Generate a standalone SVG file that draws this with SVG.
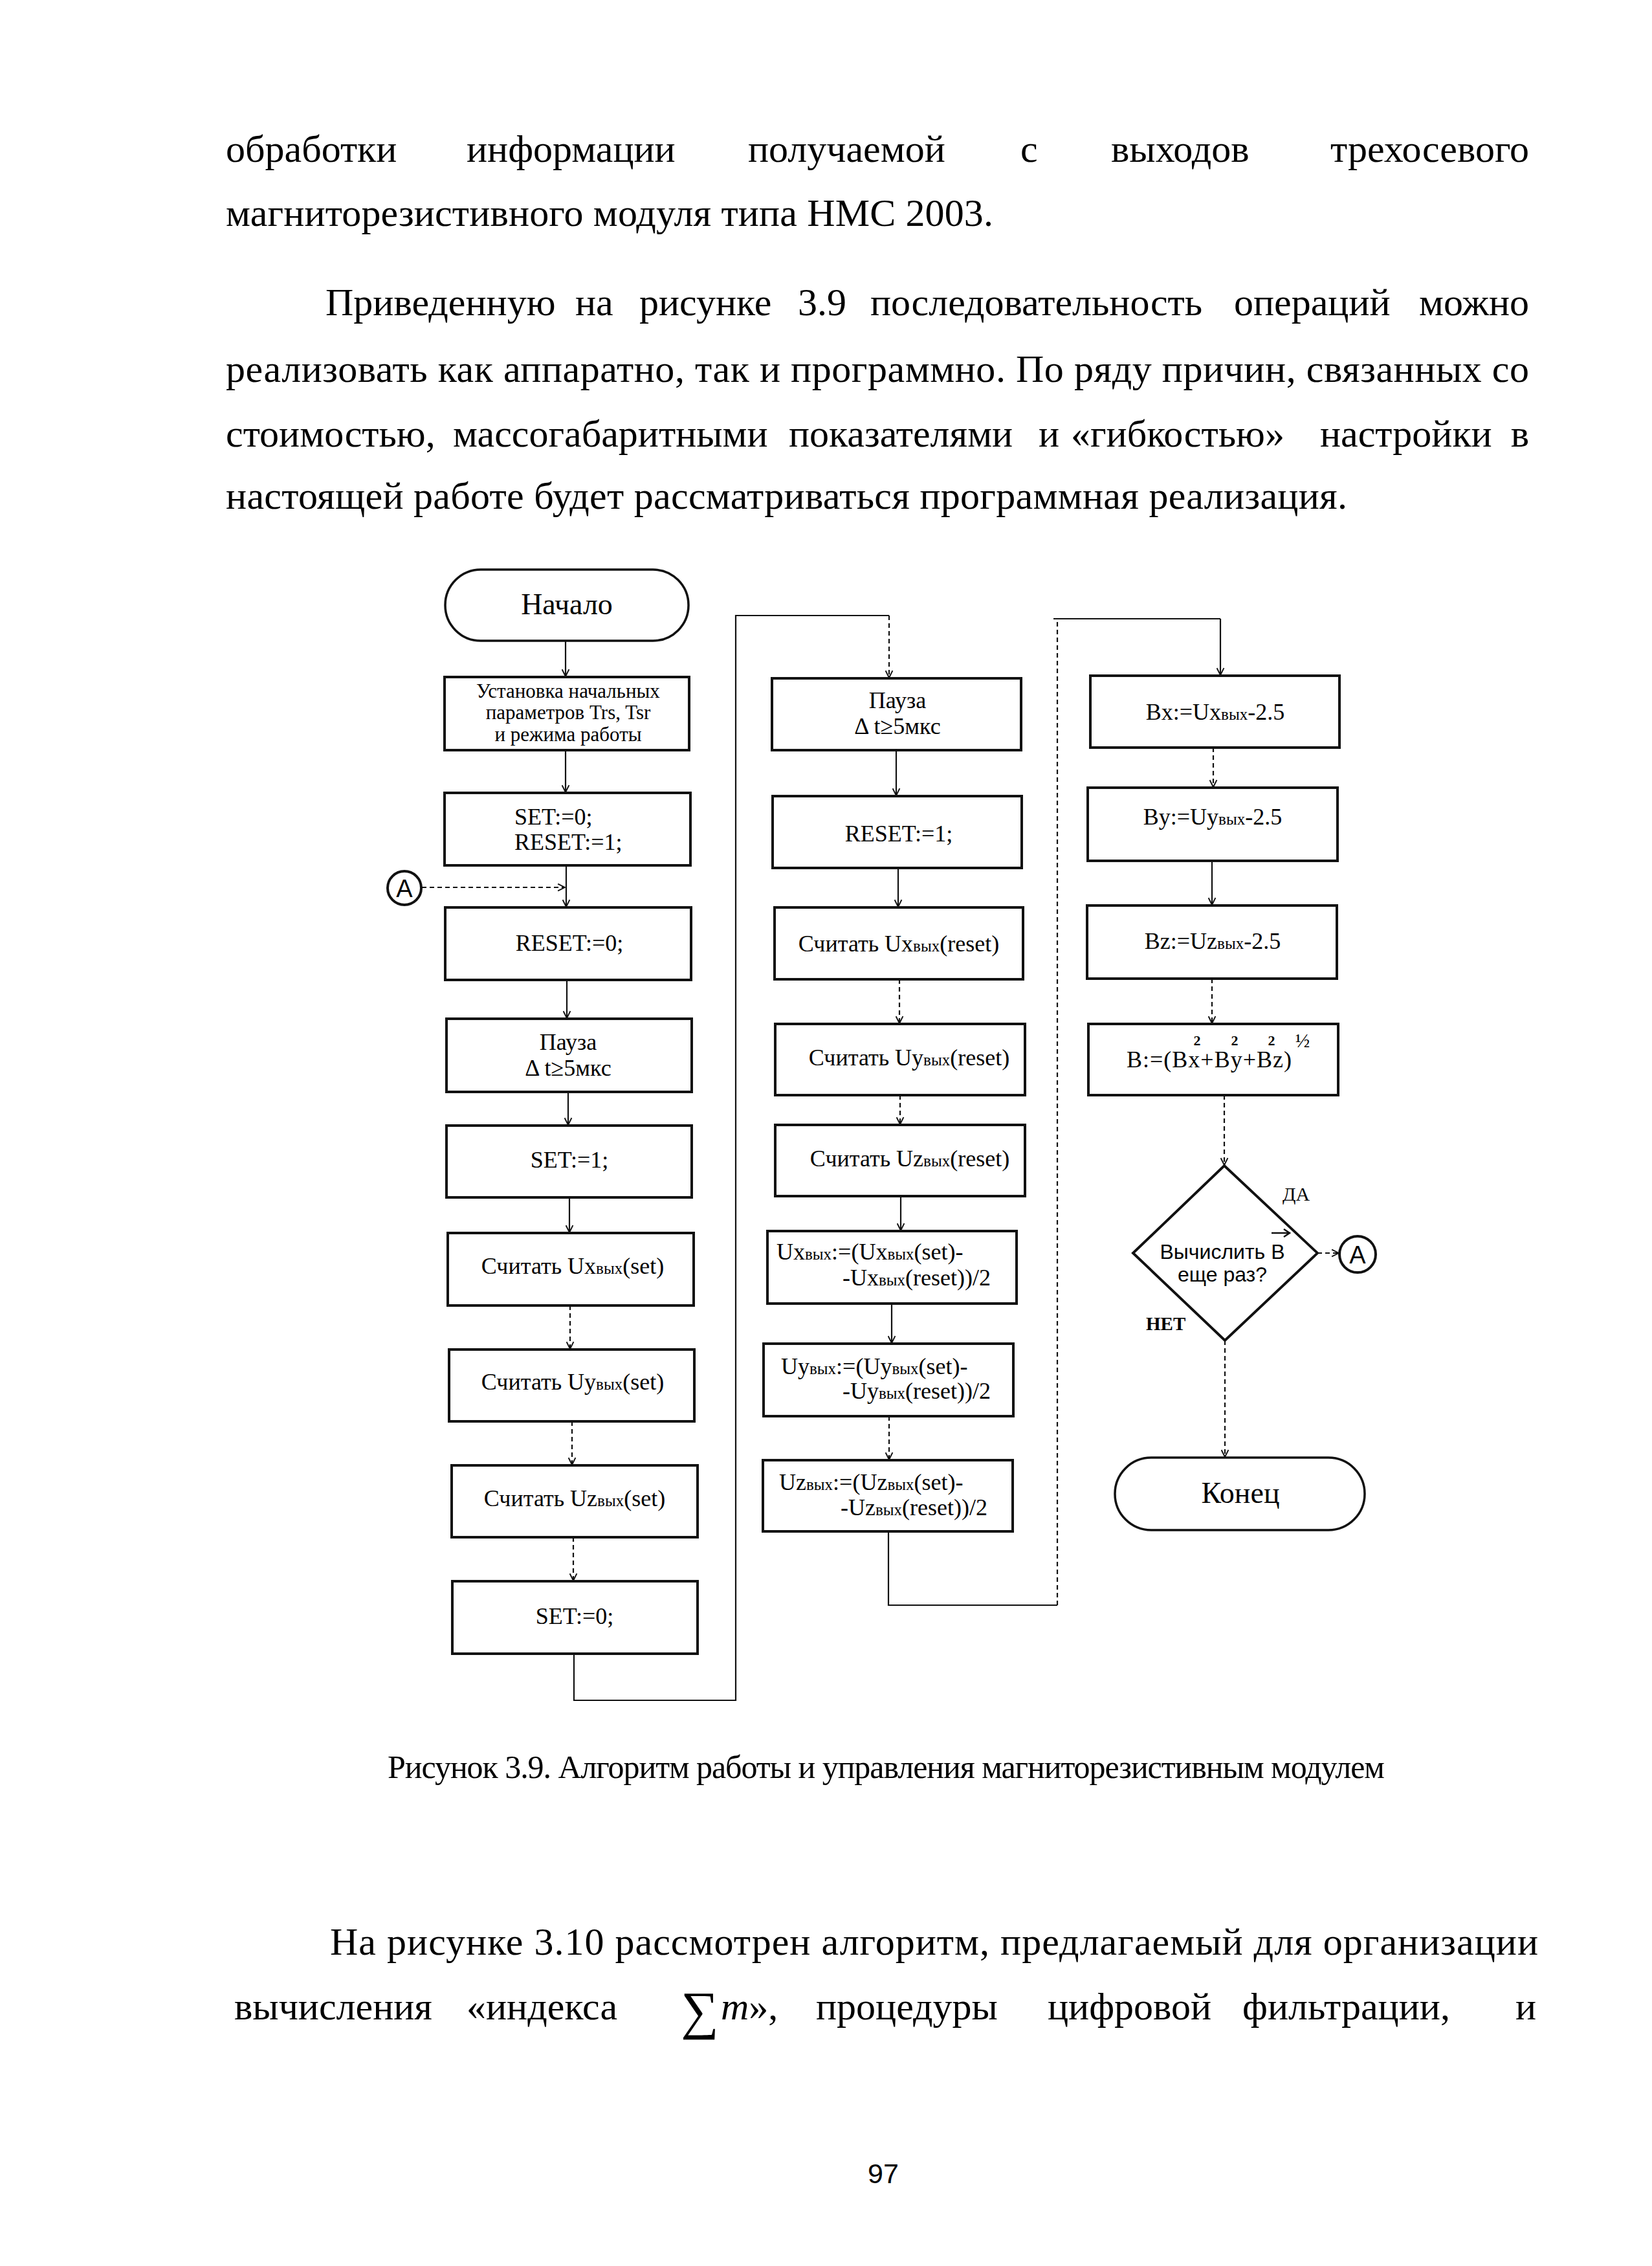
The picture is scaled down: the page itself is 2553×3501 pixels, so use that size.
<svg xmlns="http://www.w3.org/2000/svg" width="2553" height="3501" viewBox="0 0 2553 3501">
<style>
.bg{fill:#fff}
.box{fill:none;stroke:#111;stroke-width:4}
.term{fill:none;stroke:#111;stroke-width:3.5}
.ln{fill:none;stroke:#111;stroke-width:2.2}
.dash{stroke-dasharray:7 5}
.t{font-family:"Liberation Serif","Times New Roman",serif;font-size:36px;fill:#000;text-anchor:middle}
.tl{font-family:"Liberation Serif","Times New Roman",serif;font-size:36px;fill:#000}
.s{font-size:25px}
.body{font-family:"Liberation Serif","Times New Roman",serif;font-size:60px;fill:#000}
.sans{font-family:"Liberation Sans",Arial,sans-serif;fill:#000}
</style>
<defs>
<marker id="arr" viewBox="0 0 12 12" refX="11" refY="6" markerWidth="13" markerHeight="13" markerUnits="userSpaceOnUse" orient="auto">
<path d="M1,1 L11,6 L1,11" fill="none" stroke="#111" stroke-width="1.8"/>
</marker>
</defs>
<rect class="bg" x="0" y="0" width="2553" height="3501"/>

<g id="page-text">
<text class="body" y="250"><tspan x="349">обработки</tspan><tspan x="721">информации</tspan><tspan x="1156">получаемой</tspan><tspan x="1577">с</tspan><tspan x="1717">выходов</tspan><tspan x="2363" text-anchor="end">трехосевого</tspan></text>
<text class="body" x="349" y="349" textLength="1186" lengthAdjust="spacing">магниторезистивного модуля типа НМС 2003.</text>
<text class="body" y="487"><tspan x="503">Приведенную</tspan><tspan x="889">на</tspan><tspan x="988">рисунке</tspan><tspan x="1233">3.9</tspan><tspan x="1345">последовательность</tspan><tspan x="1907">операций</tspan><tspan x="2363" text-anchor="end">можно</tspan></text>
<text class="body" x="349" y="590" textLength="2014" lengthAdjust="spacing">реализовать как аппаратно, так и программно. По ряду причин, связанных со</text>
<text class="body" y="690"><tspan x="349">стоимостью,</tspan><tspan x="700">массогабаритными</tspan><tspan x="1219">показателями</tspan><tspan x="1605">и</tspan><tspan x="1655">«гибкостью»</tspan><tspan x="2040">настройки</tspan><tspan x="2363" text-anchor="end">в</tspan></text>
<text class="body" x="349" y="786" textLength="1733" lengthAdjust="spacing">настоящей работе будет рассматриваться программная реализация.</text>

<text class="body" x="599" y="2747" style="font-size:50px" textLength="1541" lengthAdjust="spacing">Рисунок 3.9. Алгоритм работы и управления магниторезистивным модулем</text>

<text class="body" x="510" y="3020" textLength="1867" lengthAdjust="spacing">На рисунке 3.10 рассмотрен алгоритм, предлагаемый для организации</text>
<text class="body" y="3120"><tspan x="362">вычисления</tspan><tspan x="721">«индекса</tspan></text>
<text class="body" x="1052" y="3134" style="font-size:82px">∑</text>
<text class="body" y="3120"><tspan x="1114" font-style="italic">m</tspan><tspan>»,</tspan><tspan x="1261">процедуры</tspan><tspan x="1619">цифровой</tspan><tspan x="1920">фильтрации,</tspan><tspan x="2374" text-anchor="end">и</tspan></text>

<text class="sans" x="1365" y="3373" style="font-size:43px" text-anchor="middle">97</text>
</g>

<g id="connectors">
<line class="ln" x1="874" y1="990" x2="874" y2="1045" marker-end="url(#arr)"/>
<line class="ln" x1="874" y1="1159" x2="874" y2="1224" marker-end="url(#arr)"/>
<line class="ln" x1="875" y1="1337" x2="875" y2="1401" marker-end="url(#arr)"/>
<line class="ln dash" x1="652" y1="1371" x2="873" y2="1371" marker-end="url(#arr)"/>
<line class="ln" x1="876" y1="1514" x2="876" y2="1573" marker-end="url(#arr)"/>
<line class="ln" x1="878" y1="1687" x2="878" y2="1738" marker-end="url(#arr)"/>
<line class="ln" x1="880" y1="1850" x2="880" y2="1904" marker-end="url(#arr)"/>
<line class="ln dash" x1="881" y1="2017" x2="881" y2="2084" marker-end="url(#arr)"/>
<line class="ln dash" x1="884" y1="2196" x2="884" y2="2263" marker-end="url(#arr)"/>
<line class="ln dash" x1="886" y1="2375" x2="886" y2="2442" marker-end="url(#arr)"/>
<path class="ln" d="M887,2555 V2627 H1137 V951 H1374"/>
<line class="ln dash" x1="1374" y1="951" x2="1374" y2="1047" marker-end="url(#arr)"/>

<line class="ln" x1="1385" y1="1159" x2="1385" y2="1229" marker-end="url(#arr)"/>
<line class="ln" x1="1388" y1="1341" x2="1388" y2="1401" marker-end="url(#arr)"/>
<line class="ln dash" x1="1390" y1="1513" x2="1390" y2="1581" marker-end="url(#arr)"/>
<line class="ln dash" x1="1391" y1="1692" x2="1391" y2="1737" marker-end="url(#arr)"/>
<line class="ln" x1="1392" y1="1848" x2="1392" y2="1901" marker-end="url(#arr)"/>
<line class="ln" x1="1378" y1="2014" x2="1378" y2="2075" marker-end="url(#arr)"/>
<line class="ln dash" x1="1374" y1="2188" x2="1374" y2="2255" marker-end="url(#arr)"/>
<path class="ln" d="M1373,2366 V2480 H1634"/>
<path class="ln dash" d="M1634,2480 V956"/>
<path class="ln" d="M1628,956 H1886"/>
<line class="ln" x1="1886" y1="956" x2="1886" y2="1043" marker-end="url(#arr)"/>

<line class="ln dash" x1="1875" y1="1155" x2="1875" y2="1216" marker-end="url(#arr)"/>
<line class="ln" x1="1873" y1="1330" x2="1873" y2="1398" marker-end="url(#arr)"/>
<line class="ln dash" x1="1873" y1="1512" x2="1873" y2="1581" marker-end="url(#arr)"/>
<line class="ln dash" x1="1892" y1="1692" x2="1892" y2="1800" marker-end="url(#arr)"/>
<line class="ln dash" x1="2036" y1="1936" x2="2069" y2="1936" marker-end="url(#arr)"/>
<line class="ln dash" x1="1893" y1="2071" x2="1893" y2="2251" marker-end="url(#arr)"/>
</g>

<g id="start">
<rect class="term" x="688" y="880" width="376" height="110" rx="55" ry="55"/>
<text class="t" x="876" y="949" style="font-size:46px">Начало</text>
</g>
<g id="init">
<rect class="box" x="687" y="1046" width="378" height="113"/>
<text class="t" x="878" y="1078" style="font-size:31px">Установка начальных</text>
<text class="t" x="878" y="1111" style="font-size:31px">параметров Trs, Tsr</text>
<text class="t" x="878" y="1145" style="font-size:31px">и режима работы</text>
</g>
<g id="set0-reset1">
<rect class="box" x="687" y="1225" width="380" height="112"/>
<text class="tl" x="795" y="1274">SET:=0;</text>
<text class="tl" x="795" y="1313">RESET:=1;</text>
</g>
<g id="conn-a-in">
<circle cx="625" cy="1372" r="26" fill="none" stroke="#111" stroke-width="4"/>
<text class="sans" x="625" y="1386" style="font-size:38px" text-anchor="middle">A</text>
</g>
<g id="reset0">
<rect class="box" x="688" y="1402" width="380" height="112"/>
<text class="t" x="880" y="1469">RESET:=0;</text>
</g>
<g id="pause1">
<rect class="box" x="690" y="1574" width="379" height="113"/>
<text class="t" x="878" y="1622">Пауза</text>
<text class="t" x="878" y="1662">Δ t≥5мкс</text>
</g>
<g id="set1">
<rect class="box" x="690" y="1739" width="379" height="111"/>
<text class="t" x="880" y="1804">SET:=1;</text>
</g>
<g id="read-ux-set">
<rect class="box" x="692" y="1905" width="380" height="112"/>
<text class="t" x="885" y="1968">Считать Ux<tspan class="s">вых</tspan>(set)</text>
</g>
<g id="read-uy-set">
<rect class="box" x="694" y="2085" width="379" height="111"/>
<text class="t" x="885" y="2147">Считать Uy<tspan class="s">вых</tspan>(set)</text>
</g>
<g id="read-uz-set">
<rect class="box" x="698" y="2264" width="380" height="111"/>
<text class="t" x="888" y="2327">Считать Uz<tspan class="s">вых</tspan>(set)</text>
</g>
<g id="set0">
<rect class="box" x="699" y="2443" width="379" height="112"/>
<text class="t" x="888" y="2509">SET:=0;</text>
</g>

<g id="pause2">
<rect class="box" x="1193" y="1048" width="385" height="111"/>
<text class="t" x="1387" y="1094">Пауза</text>
<text class="t" x="1387" y="1134">Δ t≥5мкс</text>
</g>
<g id="reset1">
<rect class="box" x="1194" y="1230" width="385" height="111"/>
<text class="t" x="1389" y="1300">RESET:=1;</text>
</g>
<g id="read-ux-reset">
<rect class="box" x="1197" y="1402" width="384" height="111"/>
<text class="t" x="1389" y="1470">Считать Ux<tspan class="s">вых</tspan>(reset)</text>
</g>
<g id="read-uy-reset">
<rect class="box" x="1198" y="1582" width="386" height="110"/>
<text class="t" x="1405" y="1646">Считать Uy<tspan class="s">вых</tspan>(reset)</text>
</g>
<g id="read-uz-reset">
<rect class="box" x="1198" y="1738" width="386" height="110"/>
<text class="t" x="1406" y="1802">Считать Uz<tspan class="s">вых</tspan>(reset)</text>
</g>
<g id="calc-ux">
<rect class="box" x="1186" y="1902" width="385" height="112"/>
<text class="tl" x="1200" y="1946">Ux<tspan class="s">вых</tspan>:=(Ux<tspan class="s">вых</tspan>(set)-</text>
<text class="tl" x="1302" y="1986">-Ux<tspan class="s">вых</tspan>(reset))/2</text>
</g>
<g id="calc-uy">
<rect class="box" x="1180" y="2076" width="386" height="112"/>
<text class="tl" x="1207" y="2123">Uy<tspan class="s">вых</tspan>:=(Uy<tspan class="s">вых</tspan>(set)-</text>
<text class="tl" x="1302" y="2161">-Uy<tspan class="s">вых</tspan>(reset))/2</text>
</g>
<g id="calc-uz">
<rect class="box" x="1179" y="2256" width="386" height="110"/>
<text class="tl" x="1204" y="2302">Uz<tspan class="s">вых</tspan>:=(Uz<tspan class="s">вых</tspan>(set)-</text>
<text class="tl" x="1299" y="2341">-Uz<tspan class="s">вых</tspan>(reset))/2</text>
</g>

<g id="bx">
<rect class="box" x="1685" y="1044" width="385" height="111"/>
<text class="t" x="1878" y="1112">Bx:=Ux<tspan class="s">вых</tspan>-2.5</text>
</g>
<g id="by">
<rect class="box" x="1681" y="1217" width="386" height="113"/>
<text class="t" x="1874" y="1274">By:=Uy<tspan class="s">вых</tspan>-2.5</text>
</g>
<g id="bz">
<rect class="box" x="1680" y="1399" width="386" height="113"/>
<text class="t" x="1874" y="1466">Bz:=Uz<tspan class="s">вых</tspan>-2.5</text>
</g>
<g id="b">
<rect class="box" x="1682" y="1582" width="386" height="110"/>
<text class="tl" x="1741" y="1649" textLength="255" lengthAdjust="spacing">B:=(Bx+By+Bz)</text>
<text class="t" x="1850" y="1615" style="font-size:22px;font-weight:bold">2</text>
<text class="t" x="1908" y="1615" style="font-size:22px;font-weight:bold">2</text>
<text class="t" x="1965" y="1615" style="font-size:22px;font-weight:bold">2</text>
<text class="t" x="2013" y="1618" style="font-size:30px">½</text>
</g>
<g id="decision">
<polygon points="1892,1801 2036,1936 1893,2071 1751,1936" fill="none" stroke="#111" stroke-width="4"/>
<text class="sans" x="1889" y="1945" style="font-size:32px" text-anchor="middle">Вычислить В</text>
<text class="sans" x="1889" y="1980" style="font-size:32px" text-anchor="middle">еще раз?</text>
<path d="M1965,1905 H1992 M1984,1899 L1993,1905 L1984,1911" fill="none" stroke="#111" stroke-width="2.5"/>
<text class="tl" x="1982" y="1855" style="font-size:30px">ДА</text>
<text class="tl" x="1771" y="2055" style="font-size:29px;font-weight:bold">НЕТ</text>
</g>
<g id="conn-a-out">
<circle cx="2098" cy="1938" r="28" fill="none" stroke="#111" stroke-width="4"/>
<text class="sans" x="2098" y="1952" style="font-size:38px" text-anchor="middle">A</text>
</g>
<g id="end">
<rect class="term" x="1723" y="2252" width="386" height="112" rx="56" ry="56"/>
<text class="t" x="1917" y="2322" style="font-size:46px">Конец</text>
</g>
</svg>
